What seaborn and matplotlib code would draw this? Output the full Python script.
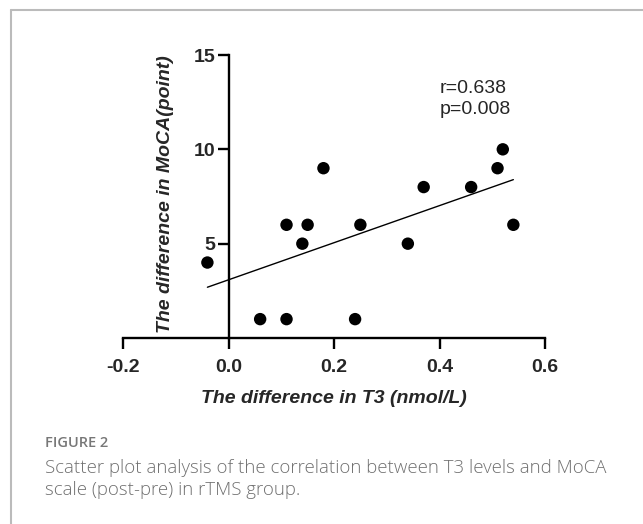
import matplotlib
matplotlib.use("Agg")
import matplotlib.pyplot as plt
from matplotlib.lines import Line2D
import seaborn as sns
import pandas as pd

# Data
t3_diff = [-0.04, 0.06, 0.11, 0.11, 0.14, 0.15, 0.18, 0.24, 0.25, 0.34, 0.37, 0.46, 0.51, 0.52, 0.54]
moca_diff = [4, 1, 1, 6, 5, 6, 9, 1, 6, 5, 8, 8, 9, 10, 6]
x_ticks = [-0.2, 0.0, 0.2, 0.4, 0.6]
x_tick_labels = ["-0.2", "0.0", "0.2", "0.4", "0.6"]
y_ticks = [5, 10, 15]
y_tick_labels = ["5", "10", "15"]
stats_text = "r=0.638\np=0.008"
x_label = "The difference in T3 (nmol/L)"
y_label = "The difference in MoCA(point)"
fig_label = "FIGURE 2"
caption_lines = ["Scatter plot analysis of the correlation between T3 levels and MoCA",
                 "scale (post-pre) in rTMS group."]

df = pd.DataFrame({"t3": t3_diff, "moca": moca_diff})

sns.set_theme(style="ticks")
plt.rcParams['font.family'] = ['Liberation Sans', 'DejaVu Sans']

W, H = 643, 524
fig = plt.figure(figsize=(W / 100, H / 100), dpi=100)
fig.patch.set_facecolor("white")

ax = fig.add_axes([123 / W, 1 - 338 / H, (545 - 123) / W, (338 - 55) / H])
ax.set_facecolor("white")

sns.regplot(data=df, x="t3", y="moca", ax=ax, ci=None, truncate=True,
            scatter_kws=dict(s=80, color="black", edgecolor="none", alpha=1, zorder=3),
            line_kws=dict(color="black", lw=1.0))

ax.set_xlim(-0.2, 0.6)
ax.set_ylim(0, 15)
ax.spines["top"].set_visible(False)
ax.spines["right"].set_visible(False)
ax.spines["left"].set_position(("data", 0.0))
for s in ("left", "bottom"):
    ax.spines[s].set_linewidth(1.7)
    ax.spines[s].set_color("black")

ax.set_xticks(x_ticks)
ax.set_xticklabels(x_tick_labels, fontsize=14, fontweight="bold")
ax.set_yticks(y_ticks)
ax.set_yticklabels(y_tick_labels, fontsize=14, fontweight="bold")
ax.tick_params(axis="both", direction="out", length=8, width=1.7, color="black")
ax.tick_params(axis="x", pad=7)
ax.tick_params(axis="y", pad=1.5)

ax.set_xlabel(x_label, fontsize=14, fontweight="bold", style="italic")
ax.set_ylabel(y_label, fontsize=14, fontweight="bold", style="italic", va="center")
ax.xaxis.set_label_coords(0.5, -0.185)
ax.yaxis.set_label_coords((165 - 123) / 422, 0.51)

ax.text(0.401, 13.7, stats_text, fontsize=14, va="top", ha="left", linespacing=1.35)

# Caption
fig.text(45 / W, 1 - 443 / H, fig_label, fontsize=10.5, color="#777777",
         family=["Open Sans", "DejaVu Sans"], fontweight="semibold", va="center")
fig.text(45 / W, 1 - 468 / H, caption_lines[0], fontsize=13.4, color="#707070",
         family=["Open Sans", "DejaVu Sans"], fontweight="light", va="center")
fig.text(45 / W, 1 - 490 / H, caption_lines[1], fontsize=13.4, color="#707070",
         family=["Open Sans", "DejaVu Sans"], fontweight="light", va="center")

# Card border (top and left edges visible)
fig.add_artist(Line2D([11 / W, 1.0], [1 - 10 / H, 1 - 10 / H], transform=fig.transFigure,
                      color="#bbbbbb", lw=1.5))
fig.add_artist(Line2D([11 / W, 11 / W], [0.0, 1 - 10 / H], transform=fig.transFigure,
                      color="#bbbbbb", lw=1.5))

fig.savefig("out.png", dpi=100, facecolor="white")
